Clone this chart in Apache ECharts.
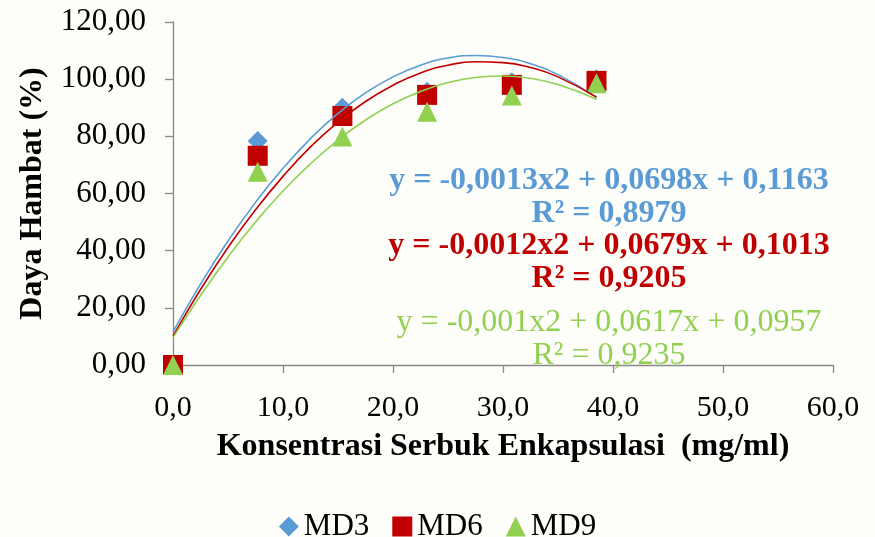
<!DOCTYPE html>
<html>
<head>
<meta charset="utf-8">
<script src="https://cdn.jsdelivr.net/npm/echarts@6/dist/echarts.min.js"></script>
<style>
html,body{margin:0;padding:0;background:#fdfdf9;}
#chart{width:875px;height:537px;}
</style>
</head>
<body>
<div id="chart"></div>
<script>
// Data
var concentrations = [0, 7.7, 15.4, 23.1, 30.8, 38.5];
var md3 = [0, 78.4, 90.0, 95.6, 98.9, 100.0];
var md6 = [0, 73.2, 87.1, 94.5, 98.0, 99.4];
var md9 = [0, 67.6, 79.9, 88.6, 94.3, 98.6];

var trendX = [0, 2.5, 5, 7.5, 10, 12.5, 15, 17.5, 20, 22.5, 25, 27.5, 30, 32.5, 35, 38.5];
var trendMD3 = [11.6, 28.3, 43.4, 56.9, 68.8, 79.2, 88.0, 95.2, 100.8, 104.9, 107.4, 108.3, 107.6, 105.4, 101.6, 93.6];
var trendMD6 = [10.1, 26.4, 41.1, 54.3, 66.0, 76.3, 85.0, 92.2, 97.9, 102.2, 104.9, 106.1, 105.8, 104.1, 100.8, 93.7];
var trendMD9 = [9.6, 24.3, 37.8, 50.0, 60.9, 70.4, 78.7, 85.7, 91.4, 95.7, 98.8, 100.6, 101.1, 100.3, 98.1, 93.0];

var seriesNames = ['MD3', 'MD6', 'MD9'];
var equations = [
  'y = -0,0013x2 + 0,0698x + 0,1163', 'R² = 0,8979',
  'y = -0,0012x2 + 0,0679x + 0,1013', 'R² = 0,9205',
  'y = -0,001x2 + 0,0617x + 0,0957', 'R² = 0,9235'
];
var xTitle = 'Konsentrasi Serbuk Enkapsulasi  (mg/ml)';
var yTitle = 'Daya Hambat (%)';

var COLORS = ['#5b9bd5', '#c00000', '#92d050'];
var FONT = '"Liberation Serif", "Times New Roman", serif';

function pairs(xs, ys) { return xs.map(function (x, i) { return [x, ys[i]]; }); }

var chart = echarts.init(document.getElementById('chart'), null, {renderer: 'canvas'});

var scatterData = [md3, md6, md9];
var trendData = [trendMD3, trendMD6, trendMD9];
var symbols = ['diamond', 'rect', 'triangle'];

var series = [];
seriesNames.forEach(function (n, i) {
  series.push({
    name: n, type: 'scatter', symbol: symbols[i], symbolSize: 20,
    itemStyle: {color: COLORS[i], opacity: 1},
    data: pairs(concentrations, scatterData[i]), z: 2
  });
});
seriesNames.forEach(function (n, i) {
  series.push({
    name: n + ' trend', type: 'line', smooth: true, showSymbol: false, symbol: 'none',
    lineStyle: {color: COLORS[i], width: 1.6}, silent: true,
    data: pairs(trendX, trendData[i]), z: 3
  });
});

var eqStyles = [
  {fw: 'bold', c: COLORS[0], y: 181},
  {fw: 'bold', c: COLORS[0], y: 214},
  {fw: 'bold', c: COLORS[1], y: 246},
  {fw: 'bold', c: COLORS[1], y: 279},
  {fw: 'normal', c: COLORS[2], y: 323},
  {fw: 'normal', c: COLORS[2], y: 356}
];
var graphics = equations.map(function (t, i) {
  return {
    type: 'text', z: 100,
    style: {
      text: t, x: 609, y: eqStyles[i].y, textAlign: 'center', textVerticalAlign: 'middle',
      font: eqStyles[i].fw + ' 32px ' + FONT, fill: eqStyles[i].c
    }
  };
});

chart.setOption({
  backgroundColor: '#fdfdf9',
  animation: false,
  grid: {left: 173, right: 42, top: 22, bottom: 172, outerBoundsMode: 'none'},
  legend: {
    data: [
      {name: 'MD3', icon: 'diamond'},
      {name: 'MD6', icon: 'rect'},
      {name: 'MD9', icon: 'triangle'}
    ],
    left: 'center', top: 506, itemWidth: 20, itemHeight: 20, itemGap: 23,
    textStyle: {fontFamily: FONT, fontSize: 31, color: '#000'}
  },
  xAxis: {
    type: 'value', min: 0, max: 60, interval: 10,
    name: xTitle, nameLocation: 'middle', nameGap: 66,
    nameTextStyle: {fontFamily: FONT, fontSize: 32, fontWeight: 'bold', color: '#000'},
    axisLine: {show: true, lineStyle: {color: '#898989', width: 1.3}},
    axisTick: {show: true, length: 8, lineStyle: {color: '#898989', width: 1.3}},
    splitLine: {show: false},
    axisLabel: {
      margin: 28, fontFamily: FONT, fontSize: 30, color: '#000',
      formatter: function (v) { return v.toFixed(1).replace('.', ','); }
    }
  },
  yAxis: {
    type: 'value', min: 0, max: 120, interval: 20,
    name: yTitle, nameLocation: 'middle', nameGap: 124, nameRotate: 90,
    nameTextStyle: {fontFamily: FONT, fontSize: 32, fontWeight: 'bold', color: '#000'},
    axisLine: {show: true, lineStyle: {color: '#898989', width: 1.3}},
    axisTick: {show: true, length: 8, lineStyle: {color: '#898989', width: 1.3}},
    splitLine: {show: false},
    axisLabel: {
      margin: 27, fontFamily: FONT, fontSize: 31, color: '#000',
      formatter: function (v) { return v.toFixed(2).replace('.', ','); }
    }
  },
  series: series,
  graphic: graphics
});
</script>
</body>
</html>
